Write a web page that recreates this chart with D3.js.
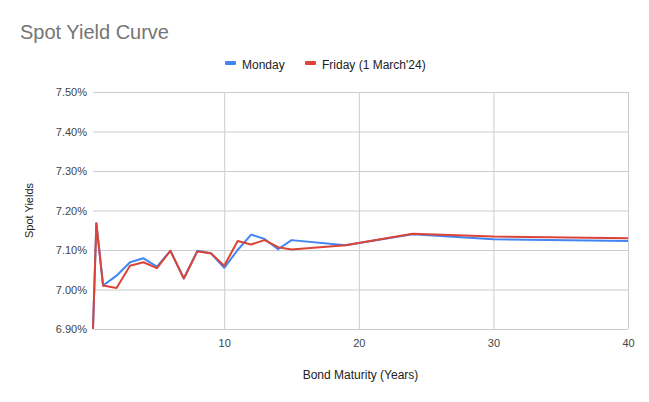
<!DOCTYPE html>
<html>
<head>
<meta charset="utf-8">
<script src="https://cdn.jsdelivr.net/npm/d3@7"></script>
<style>
  body { margin: 0; background: #fff; }
  svg { font-family: Arial, "Liberation Sans", sans-serif; }
</style>
</head>
<body>
<div id="chart"></div>
<script>
// Maturities in years
const maturities = [0.25, 0.5, 1, 2, 3, 4, 5, 6, 7, 8, 9, 10, 11, 12, 13, 14, 15, 19, 24, 30, 40];
// Spot yields (%)
const mondayYields = [6.90, 7.168, 7.010, 7.035, 7.069, 7.079, 7.058, 7.098, 7.028, 7.098, 7.092, 7.055, 7.100, 7.139, 7.128, 7.102, 7.125, 7.112, 7.140, 7.127, 7.123];
const fridayYields = [6.90, 7.168, 7.010, 7.004, 7.060, 7.069, 7.054, 7.098, 7.028, 7.096, 7.092, 7.060, 7.123, 7.114, 7.125, 7.107, 7.101, 7.112, 7.141, 7.134, 7.130];
const yTicks = [6.9, 7.0, 7.1, 7.2, 7.3, 7.4, 7.5];
const xTicks = [10, 20, 30, 40];
const seriesNames = ['Monday', "Friday (1 March'24)"];
const seriesColors = ['#4285f4', '#db4437'];

const W = 649, H = 402;
const margin = { top: 92, right: 21, bottom: 73, left: 93 };
const width = W - margin.left - margin.right;
const height = H - margin.top - margin.bottom;

const svg = d3.select('#chart').append('svg')
  .attr('width', W).attr('height', H);

svg.append('text')
  .attr('x', 20).attr('y', 39)
  .style('font-size', '20px').style('fill', '#757575')
  .text('Spot Yield Curve');

const g = svg.append('g').attr('transform', `translate(${margin.left},${margin.top})`);

const x = d3.scaleLinear().domain([0.25, 40]).range([0, width]);
const y = d3.scaleLinear().domain([6.9, 7.5]).range([height, 0]);

// Grid + y labels
g.append('g')
  .call(d3.axisLeft(y).tickValues(yTicks).tickSize(-width).tickFormat(d => d.toFixed(2) + '%'))
  .call(a => a.select('.domain').remove())
  .call(a => a.selectAll('.tick line').attr('stroke', '#cccccc'))
  .call(a => a.selectAll('.tick text').attr('x', -6).style('font-size', '11px').style('fill', '#444'));

g.append('g')
  .attr('transform', `translate(0,${height})`)
  .call(d3.axisBottom(x).tickValues(xTicks).tickSize(-height).tickPadding(10))
  .call(a => a.select('.domain').remove())
  .call(a => a.selectAll('.tick line').attr('stroke', '#cccccc'))
  .call(a => a.selectAll('.tick text').style('font-size', '11px').style('fill', '#444'));

// Axis titles
svg.append('text')
  .attr('text-anchor', 'middle')
  .attr('x', margin.left + width / 2).attr('y', 379)
  .style('font-size', '12px').style('fill', '#222')
  .text('Bond Maturity (Years)');

svg.append('text')
  .attr('text-anchor', 'middle')
  .attr('transform', `translate(33,${margin.top + height / 2}) rotate(-90)`)
  .style('font-size', '11px').style('fill', '#222')
  .text('Spot Yields');

// Lines
const line = d3.line().x((d, i) => x(maturities[i])).y(d => y(d));
[mondayYields, fridayYields].forEach((vals, k) => {
  g.append('path')
    .datum(vals)
    .attr('fill', 'none')
    .attr('stroke', seriesColors[k])
    .attr('stroke-width', 2)
    .attr('stroke-linejoin', 'round')
    .attr('d', line);
});

// Legend
const legend = svg.append('g').attr('transform', 'translate(225,65)');
const legendX = [0, 80];
seriesNames.forEach((name, k) => {
  const item = legend.append('g').attr('transform', `translate(${legendX[k]},0)`);
  item.append('rect').attr('x', 0).attr('y', -4).attr('width', 11).attr('height', 4).attr('rx', 1)
    .attr('fill', seriesColors[k]);
  item.append('text').attr('x', 17).attr('y', 0).attr('dy', '0.32em')
    .style('font-size', '12px').style('fill', '#222')
    .text(name);
});
</script>
</body>
</html>
